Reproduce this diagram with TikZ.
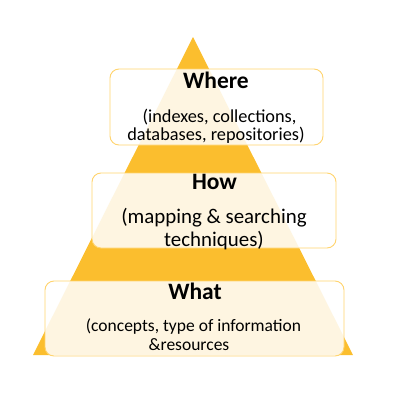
\documentclass[tikz,border=0pt]{standalone}
\usepackage{fontspec}
\setmainfont{Carlito}
\definecolor{gold}{RGB}{251,190,46}
\definecolor{boxline}{RGB}{255,212,110}
\begin{document}
\begin{tikzpicture}[x=1pt,y=-1pt,
  tri/.style={fill=gold},
  panel/.style={draw=boxline, line width=0.9pt, fill=white, fill opacity=0.86, rounded corners=9pt, inner sep=0pt},
  title/.style={anchor=base, font=\fontsize{23.5}{28}\selectfont\bfseries, inner sep=0pt},
  subwhere/.style={anchor=base, font=\fontsize{18.3}{22}\selectfont, inner sep=0pt},
  subhow/.style={anchor=base, font=\fontsize{20.9}{25}\selectfont, inner sep=0pt},
  subwhat/.style={anchor=base, font=\fontsize{17.5}{21}\selectfont, inner sep=0pt}]
\useasboundingbox (0,0) rectangle (400,400);
\coordinate (apex) at (193,37);
\coordinate (bl) at (33,355);
\coordinate (br) at (353,355);
\fill[tri] (apex) -- (br) -- (bl) -- cycle;
\node[panel, minimum width=213pt, minimum height=76pt] (wherebox) at (216.5,107) {};
\node[panel, minimum width=244pt, minimum height=75pt] (howbox) at (214,210.5) {};
\node[panel, minimum width=299pt, minimum height=75pt] (whatbox) at (194.5,318.5) {};
\node[title] (whereT) at (216,88) {Where};
\node[subwhere] (where1) at (219.5,122) {(indexes, collections,};
\node[subwhere] (where2) at (216,140) {databases, repositories)};
\node[title] (howT) at (214.5,189) {How};
\node[subhow] (how1) at (214,223) {(mapping \& searching};
\node[subhow] (how2) at (214,246) {techniques)};
\node[title] (whatT) at (195,299) {What};
\node[subwhat] (what1) at (193.5,331.5) {(concepts, type of information};
\node[subwhat] (what2) at (189,350) {\&resources};
\end{tikzpicture}
\end{document}
